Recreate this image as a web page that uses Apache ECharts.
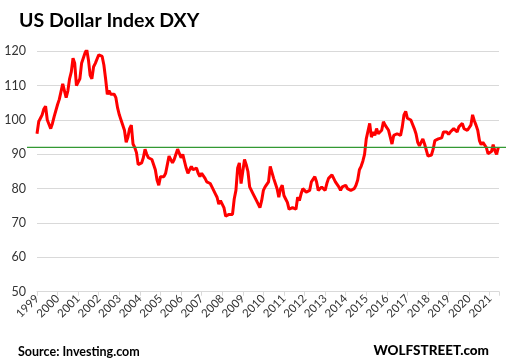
<!DOCTYPE html>
<html><head><meta charset="utf-8">
<script src="https://cdn.jsdelivr.net/npm/echarts@6/dist/echarts.min.js"></script>
<style>html,body{margin:0;padding:0;background:#fff}#c{width:506px;height:362px}</style>
</head><body><div id="c"></div>
<script>
const titleText = 'US Dollar Index DXY';
const sourceText = 'Source: Investing.com';
const brandText = 'WOLFSTREET.com';
const startYear = 1999;
const referenceLevel = 92;
const yTicks = [50, 60, 70, 80, 90, 100, 110, 120];
// monthly values, Jan..Dec
const v1999 = [96.0, 99.5, 100.5, 101.5, 103.2, 104.0, 100.0, 99.5, 97.5, 99.0, 101.0, 101.5];
const v2000 = [104.5, 106.0, 106.5, 110.5, 111.0, 106.5, 108.5, 112.0, 114.0, 118.0, 116.5, 110.0];
const v2001 = [110.0, 112.0, 116.5, 116.0, 119.5, 120.5, 117.5, 113.0, 112.0, 115.5, 116.5, 117.0];
const v2002 = [119.0, 119.5, 118.5, 116.0, 112.0, 107.5, 108.5, 107.5, 108.0, 107.5, 106.5, 103.5];
const v2003 = [101.5, 100.0, 99.5, 97.0, 93.5, 95.0, 97.5, 98.5, 93.0, 92.0, 90.5, 87.0];
const v2004 = [86.5, 87.5, 89.0, 91.5, 90.0, 89.0, 89.5, 88.5, 88.0, 85.5, 82.5, 81.0];
const v2005 = [83.5, 84.0, 83.5, 84.5, 87.0, 89.5, 89.0, 87.5, 88.5, 90.0, 91.5, 91.0];
const v2006 = [89.0, 90.0, 89.5, 86.0, 84.5, 85.5, 86.5, 85.5, 86.0, 86.0, 84.5, 83.5];
const v2007 = [84.5, 84.0, 83.0, 82.0, 82.0, 81.5, 80.5, 80.5, 78.5, 77.5, 75.5, 76.5];
const v2008 = [75.5, 74.5, 72.0, 72.5, 72.5, 72.5, 72.5, 77.0, 79.5, 86.0, 87.5, 81.5];
const v2009 = [85.0, 88.5, 87.0, 85.0, 80.5, 80.5, 78.5, 78.0, 76.5, 75.5, 74.5, 76.5];
const v2010 = [79.5, 80.5, 81.0, 82.0, 86.5, 87.0, 83.0, 82.5, 80.0, 77.5, 80.0, 81.0];
const v2011 = [78.0, 77.0, 76.0, 74.0, 74.5, 74.5, 74.0, 74.0, 77.5, 76.5, 78.5, 80.0];
const v2012 = [80.5, 79.0, 79.5, 79.5, 82.0, 82.5, 83.5, 82.0, 79.5, 79.5, 80.5, 80.0];
const v2013 = [79.5, 81.5, 83.0, 82.5, 84.0, 83.0, 82.0, 81.5, 80.5, 79.5, 80.5, 80.0];
const v2014 = [81.0, 80.0, 80.0, 79.5, 80.0, 80.0, 81.0, 82.5, 85.5, 86.5, 88.0, 90.0];
const v2015 = [94.5, 95.0, 99.0, 95.0, 96.5, 95.5, 97.5, 96.0, 96.0, 97.0, 99.5, 98.5];
const v2016 = [98.5, 97.0, 95.0, 93.0, 95.5, 96.0, 96.0, 95.5, 95.5, 98.0, 101.5, 102.5];
const v2017 = [100.5, 101.0, 100.0, 99.5, 97.5, 96.0, 93.5, 92.5, 93.0, 94.5, 93.0, 92.5];
const v2018 = [89.5, 89.5, 89.8, 91.5, 94.0, 94.5, 94.5, 95.0, 94.8, 96.5, 97.0, 96.5];
const v2019 = [95.8, 96.5, 97.0, 97.5, 97.8, 96.5, 98.0, 98.5, 99.0, 97.5, 98.0, 97.0];
const v2020 = [97.5, 98.5, 101.5, 99.8, 98.5, 97.0, 94.0, 92.8, 93.5, 93.5, 92.0, 90.2];
const v2021 = [90.5, 90.8, 92.8, 91.0, 90.0, 92.0];

const years = [v1999,v2000,v2001,v2002,v2003,v2004,v2005,v2006,v2007,v2008,v2009,v2010,
  v2011,v2012,v2013,v2014,v2015,v2016,v2017,v2018,v2019,v2020,v2021];
const data = [];
years.forEach((arr, i) => arr.forEach((v, m) => data.push([startYear + i + m / 12, v])));

const font = 'Lato, "Open Sans", sans-serif';
const chart = echarts.init(document.getElementById('c'), null, {renderer: 'canvas'});
chart.setOption({
  animation: false,
  backgroundColor: '#fff',
  title: [
    {text: titleText, left: 14, top: 6, textStyle: {fontFamily: font, fontSize: 19.5, fontWeight: 'bold', color: '#000'}},
    {text: sourceText, left: 13, top: 340, textStyle: {fontFamily: font, fontSize: 12.5, fontWeight: 'bold', color: '#000'}},
    {text: brandText, right: 12, top: 339, textStyle: {fontFamily: font, fontSize: 13.5, fontWeight: 900, color: '#000'}}
  ],
  grid: {left: 37, right: 7, top: 51.3, bottom: 70.3, containLabel: false},
  xAxis: {
    type: 'value', min: startYear, max: 2021.45, interval: 1,
    axisLine: {show: true, lineStyle: {color: '#d9d9d9'}},
    axisTick: {show: true, length: 4, lineStyle: {color: '#d9d9d9'}},
    splitLine: {show: false},
    axisLabel: {rotate: 45, margin: 5, fontFamily: font, fontSize: 11.5, color: '#333',
      formatter: v => Number.isInteger(v) ? String(v) : ''}
  },
  yAxis: {
    type: 'value', min: yTicks[0], max: yTicks[yTicks.length - 1], interval: 10,
    axisLine: {show: false}, axisTick: {show: false},
    splitLine: {lineStyle: {color: '#d9d9d9', width: 1}},
    axisLabel: {margin: 11, fontFamily: font, fontSize: 12.5, color: '#333'}
  },
  series: [{
    type: 'line', data: data, showSymbol: false, symbol: 'none',
    lineStyle: {color: '#ff0000', width: 3}, z: 3
  }]
});
const yPix = chart.convertToPixel({yAxisIndex: 0}, referenceLevel);
chart.setOption({
  graphic: [{type: 'line', z: 10, shape: {x1: 27, y1: yPix, x2: 506, y2: yPix},
    style: {stroke: '#339933', lineWidth: 1.3}}]
});
</script></body></html>
